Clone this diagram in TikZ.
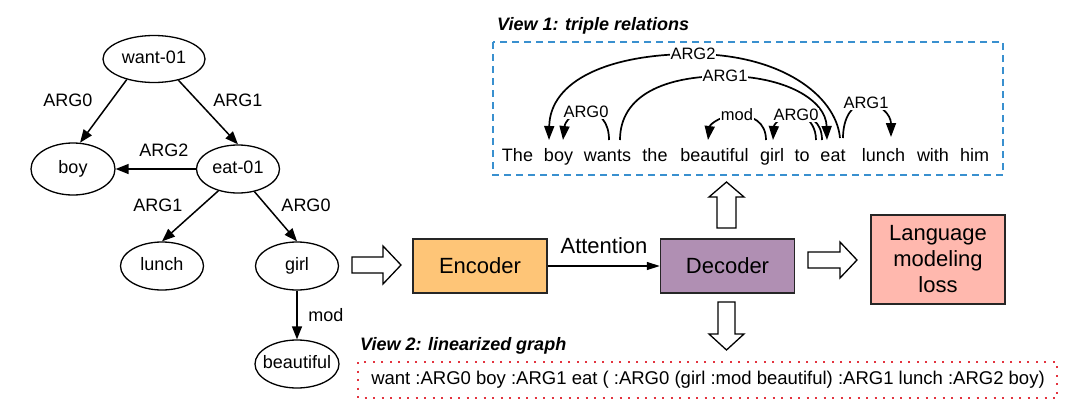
\documentclass[tikz,border=0pt]{standalone}
\usepackage{fontspec}
\setmainfont{Liberation Sans}
\usetikzlibrary{shapes.geometric,arrows.meta}
\definecolor{encfill}{HTML}{FEC577}
\definecolor{decfill}{HTML}{B08FB3}
\definecolor{lmfill}{HTML}{FFB8AE}
\definecolor{viewblue}{HTML}{3990CF}
\definecolor{viewred}{HTML}{E3343F}
\newcommand{\amrtxt}[1]{\makebox[0pt]{#1}}
\begin{document}
\begin{tikzpicture}[x=1pt,y=-1pt,
  amrnode/.style={ellipse,draw,line width=1.3pt,inner sep=0pt,text height=13pt,text depth=4pt,font=\fontsize{18}{21}\selectfont},
  amredge/.style={line width=1.5pt,-{Triangle[length=13pt,width=10pt]}},
  elabel/.style={font=\fontsize{18}{21}\selectfont,inner sep=0pt},
  word/.style={anchor=base,inner sep=0pt,font=\fontsize{18}{21}\selectfont},
  arcline/.style={line width=1.7pt},
  arcarrow/.style={line width=1.7pt,-{Triangle[length=14pt,width=10pt]}},
  arclabel/.style={fill=white,inner sep=1pt,font=\fontsize{16.5}{18}\selectfont},
  block/.style={draw=black!85,line width=1.5pt,minimum width=134pt,minimum height=54pt,inner sep=0pt,font=\fontsize{22}{26}\selectfont},
  hollow/.style={draw,line width=1.3pt,fill=white,line join=miter},
  viewtitle/.style={anchor=base west,inner sep=0pt,font=\fontsize{18}{21}\selectfont\bfseries\itshape}
]
\useasboundingbox[fill=white] (0,0) rectangle (1080,410);

% ---------- AMR tree ----------
\node[amrnode,minimum width=102pt,minimum height=47pt] (want) at (154,59) {\amrtxt{want-01}};
\node[amrnode,minimum width=84pt,minimum height=52pt] (boy) at (73,169) {\amrtxt{boy}};
\node[amrnode,minimum width=83pt,minimum height=48pt] (eat) at (238,169) {\amrtxt{eat-01}};
\node[amrnode,minimum width=83pt,minimum height=48pt] (lunch) at (162,266) {\amrtxt{lunch}};
\node[amrnode,minimum width=83pt,minimum height=48pt] (girl) at (297,266) {\amrtxt{girl}};
\node[amrnode,minimum width=84pt,minimum height=48pt] (beautiful) at (297,364) {\amrtxt{beautiful}};

\draw[amredge] (want.-143) -- (boy.75);
\draw[amredge] (want.-41) -- (eat.north);
\draw[amredge] (eat.west) -- (boy.east);
\draw[amredge] (eat.-132) -- (lunch.north);
\draw[amredge] (eat.-54) -- (girl.north);
\draw[amredge] (girl.south) -- (beautiful.north);

\node[elabel] (l1) at (68,100) {ARG0};
\node[elabel] (l2) at (238,100) {ARG1};
\node[elabel] (l3) at (164,150) {ARG2};
\node[elabel] (l4) at (158,205) {ARG1};
\node[elabel] (l5) at (306,205) {ARG0};
\node[elabel] (l6) at (326,315) {mod};

% ---------- hollow block arrows ----------
\draw[hollow] (352,257) -- (383,257) -- (383,246) -- (401,265) -- (383,284) -- (383,273) -- (352,273) -- cycle;
\draw[hollow] (808,252) -- (840,252) -- (840,242) -- (857,260) -- (840,278) -- (840,268) -- (808,268) -- cycle;
\draw[hollow] (717,228) -- (717,197) -- (709,197) -- (726.5,182) -- (744,197) -- (736,197) -- (736,228) -- cycle;
\draw[hollow] (718,302) -- (718,334) -- (709,334) -- (726.5,350) -- (744,334) -- (735,334) -- (735,302) -- cycle;

% ---------- encoder / decoder ----------
\node[block,fill=encfill] (enc) at (480,266) {Encoder};
\node[block,fill=decfill] (dec) at (727.5,266) {Decoder};
\node[block,fill=lmfill,minimum height=89pt,align=center] (lm) at (938,259.5) {Language\\modeling\\loss};
\draw[line width=1.4pt,-{Triangle[length=13pt,width=8pt]}] (enc.east) -- (dec.west);
\node[elabel,font=\fontsize{22}{26}\selectfont] (att) at (604,246) {Attention};

% ---------- View 1 ----------
\node[viewtitle] (v1) at (497,30) {View 1: triple relations};
\draw[viewblue,line width=2pt,dash pattern=on 7pt off 5pt] (493,42) rectangle (1003,175);

\node[word] (w1) at (517.5,161) {The};
\node[word] (w2) at (558.5,161) {boy};
\node[word] (w3) at (607.5,161) {wants};
\node[word] (w4) at (655,161) {the};
\node[word] (w5) at (714.5,161) {beautiful};
\node[word] (w6) at (772,161) {girl};
\node[word] (w7) at (802,161) {to};
\node[word] (w8) at (833,161) {eat};
\node[word] (w9) at (883.5,161) {lunch};
\node[word] (w10) at (933,161) {with};
\node[word] (w11) at (974.5,161) {him};

\coordinate (a2s) at (840,138);
\coordinate (a2e) at (549,140);
\coordinate (a1s) at (620,140);
\coordinate (a1e) at (827,140);
\coordinate (a0s) at (609,140);
\coordinate (a0e) at (563,140);
\coordinate (ms) at (766,140);
\coordinate (me) at (708,140);
\coordinate (b0s) at (822,140);
\coordinate (b0t) at (816,140);
\coordinate (b0e) at (773,140);
\coordinate (c1s) at (843,138);
\coordinate (c1e) at (891,137);

\draw[arcarrow] (a2s) .. controls (836,95) and (780,54) .. (693,54) node[arclabel] (t2) {ARG2} .. controls (610,54) and (550,80) .. (a2e);
\draw[arcarrow] (a1s) .. controls (620,95) and (665,76) .. (725,76) node[arclabel] (t1) {ARG1} .. controls (785,76) and (826,100) .. (a1e);
\draw[arcarrow] (a0s) .. controls (609,122) and (600,112) .. (586,112) node[arclabel] (t0) {ARG0} .. controls (572,112) and (565,122) .. (a0e);
\draw[arcarrow] (ms) .. controls (766,122) and (752,115) .. (737,115) node[arclabel] (tm) {mod} .. controls (722,115) and (710,124) .. (me);
\draw[arcline] (b0t) .. controls (816,128) and (810,120) .. (804,117);
\draw[arcarrow] (b0s) .. controls (822,122) and (810,115) .. (796,115) node[arclabel] (tb) {ARG0} .. controls (782,115) and (774,124) .. (b0e);
\draw[arcarrow] (c1s) .. controls (843,118) and (852,103) .. (866,103) node[arclabel] (tc) {ARG1} .. controls (880,103) and (891,115) .. (c1e);

% ---------- View 2 ----------
\node[viewtitle] (v2) at (360,350) {View 2: linearized graph};
\draw[viewred,line width=2pt,dash pattern=on 2pt off 6.5pt] (358,362) rectangle (1057,398);
\node[inner sep=0pt,font=\fontsize{18.5}{22}\selectfont] (lin) at (708,380) {want :ARG0 boy :ARG1 eat ( :ARG0 (girl :mod beautiful) :ARG1 lunch :ARG2 boy)};
\end{tikzpicture}
\end{document}
